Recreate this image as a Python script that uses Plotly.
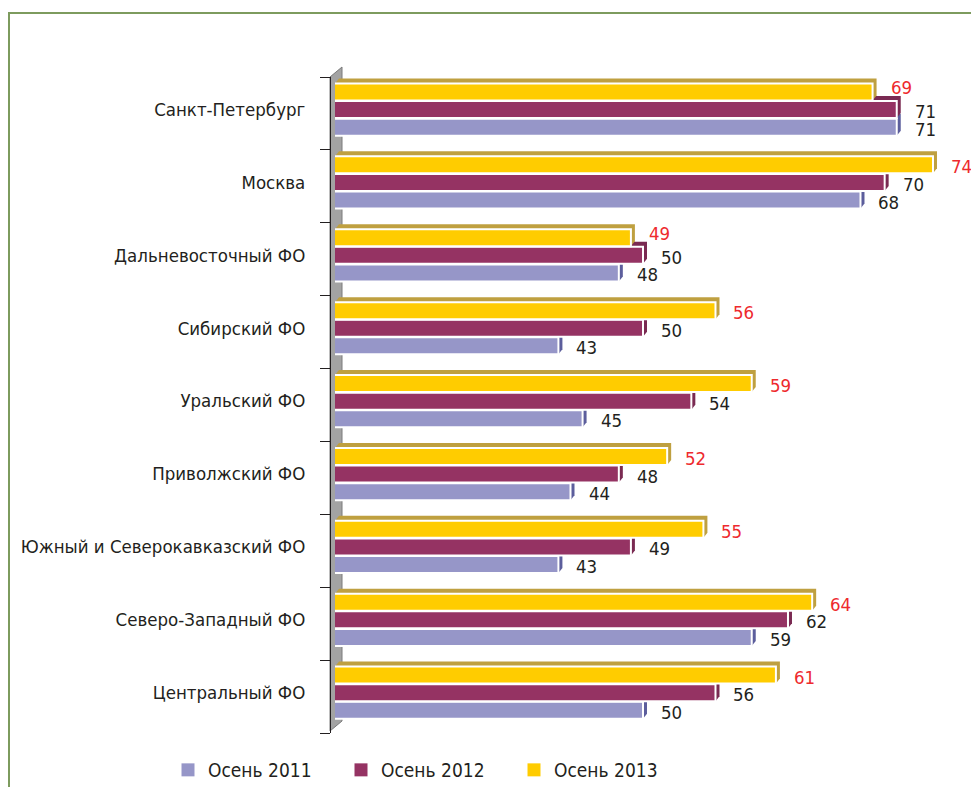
import plotly.graph_objects as go

# ---------------- data ----------------
categories = ["Центральный ФО", "Северо-Западный ФО", "Южный и Северокавказский ФО",
              "Приволжский ФО", "Уральский ФО", "Сибирский ФО",
              "Дальневосточный ФО", "Москва", "Санкт-Петербург"]
autumn_2011 = [50, 59, 43, 44, 45, 43, 48, 68, 71]
autumn_2012 = [56, 62, 49, 48, 54, 50, 50, 70, 71]
autumn_2013 = [61, 64, 55, 52, 59, 56, 49, 74, 69]
series_names = ["Осень 2011", "Осень 2012", "Осень 2013"]

# ---------------- styling / geometry ----------------
# the page body keeps an 8px margin, so the figure is drawn 8px smaller
OFF = 8
W, H = 979 - OFF, 787 - OFF
L, R, T, B = 330 - OFF, 19, 77 - OFF, 54
PW, PH = W - L - R, H - T - B
PX_PER_UNIT = 12.083
X_LEFT = 24.51
X_RIGHT = X_LEFT + (PW - 5) / PX_PER_UNIT
BAND_PX = PH / len(categories)

FONT = "DejaVu Sans Condensed, Liberation Sans Narrow, sans-serif"
TXT = "#231F20"
RED = "#EE2A2E"
FS = 18.5

colors = ["#9696C8", "#953363", "#FFCC00"]
side_colors = ["#5C5E9C", "#7A2A52", "#BFA040"]
label_colors = [TXT, TXT, RED]
pitch = 17.6 / BAND_PX
c0 = 0.053
centers = [c0 - pitch, c0, c0 + pitch]
bw = 17.0 / BAND_PX
dx = 4.0 / PX_PER_UNIT
dy = 5.0 / BAND_PX

series = [autumn_2011, autumn_2012, autumn_2013]

def X(px):
    """reference-picture x pixel -> paper fraction"""
    return (px - OFF - L) / PW

def Y(py):
    """reference-picture y pixel -> paper fraction"""
    return (H - B - (py - OFF)) / PH

fig = go.Figure()
shapes = []
annotations = []

# green frame (left edge as close to the page edge as the figure allows)
shapes.append(dict(type="rect", xref="paper", yref="paper",
                   x0=X(OFF + 1), x1=X(1000), y0=Y(800), y1=Y(13),
                   line=dict(color="#7D9B5E", width=2), fillcolor="rgba(0,0,0,0)",
                   layer="below"))
# grey 3D wall
shapes.append(dict(type="path", xref="paper", yref="paper",
                   path=f"M {X(330)},{Y(731)} L {X(330)},{Y(77)} L {X(342)},{Y(67)} L {X(342)},{Y(721)} Z",
                   fillcolor="#A3A3A3", line=dict(color="#7A7A7A", width=1), layer="below"))

for s, vals in enumerate(series):
    fig.add_trace(go.Bar(
        x=vals, y=categories, orientation="h", name=series_names[s],
        legendgroup=series_names[s], showlegend=False,
        width=bw, offset=centers[s] - bw / 2,
        marker=dict(color=colors[s], line=dict(color="white", width=2)),
        hoverinfo="x+name",
    ))
    # legend swatch (square, like the original)
    fig.add_trace(go.Scatter(
        x=[None], y=[None], mode="markers", name=series_names[s],
        legendgroup=series_names[s], showlegend=True,
        marker=dict(symbol="square", size=13, color=colors[s]),
    ))
    for k, v in enumerate(vals):
        b = k + centers[s] - bw / 2
        t = b + bw
        shapes.append(dict(
            type="path", xref="x", yref="y", layer="below",
            path=(f"M {X_LEFT},{b} L {X_LEFT},{t} L {X_LEFT + dx},{t + dy} "
                  f"L {v + dx},{t + dy} L {v + dx},{b + dy} L {v},{b} Z"),
            fillcolor=side_colors[s], line=dict(width=0)))
        # raise the top label when the bar below it sticks out further
        ysh = -2
        if s == 2 and autumn_2012[k] > v:
            ysh = 4
        annotations.append(dict(
            x=v, y=k + centers[s], xref="x", yref="y", text=str(v),
            showarrow=False, xanchor="left", yanchor="middle",
            xshift=16, yshift=ysh,
            font=dict(family=FONT, size=FS, color=label_colors[s])))

fig.update_layout(
    width=W, height=H,
    margin=dict(l=L, r=R, t=T, b=B, autoexpand=False),
    paper_bgcolor="white", plot_bgcolor="rgba(0,0,0,0)",
    barmode="overlay",
    font=dict(family=FONT, size=FS, color=TXT),
    shapes=shapes, annotations=annotations,
    xaxis=dict(domain=[5 / PW, 1], range=[X_LEFT, X_RIGHT], visible=False,
               showgrid=False, zeroline=False, anchor="y", automargin=False),
    yaxis=dict(type="category", categoryorder="array", categoryarray=categories,
               range=[-0.5, len(categories) - 0.5], anchor="free", position=0,
               automargin=False,
               showline=True, linecolor=TXT, linewidth=1,
               ticks="outside", ticklen=10, tickcolor=TXT, tickwidth=1,
               tickson="boundaries", showgrid=False, zeroline=False,
               ticklabelstandoff=21, ticklabelshift=-4,
               tickfont=dict(family=FONT, size=FS, color=TXT)),
    legend=dict(orientation="h", x=X(168), y=Y(770), xanchor="left", yanchor="middle",
                entrywidth=128, entrywidthmode="pixels", traceorder="normal",
                bgcolor="rgba(0,0,0,0)", font=dict(family=FONT, size=19, color=TXT)),
    showlegend=True,
)

fig.write_html("out.html")
